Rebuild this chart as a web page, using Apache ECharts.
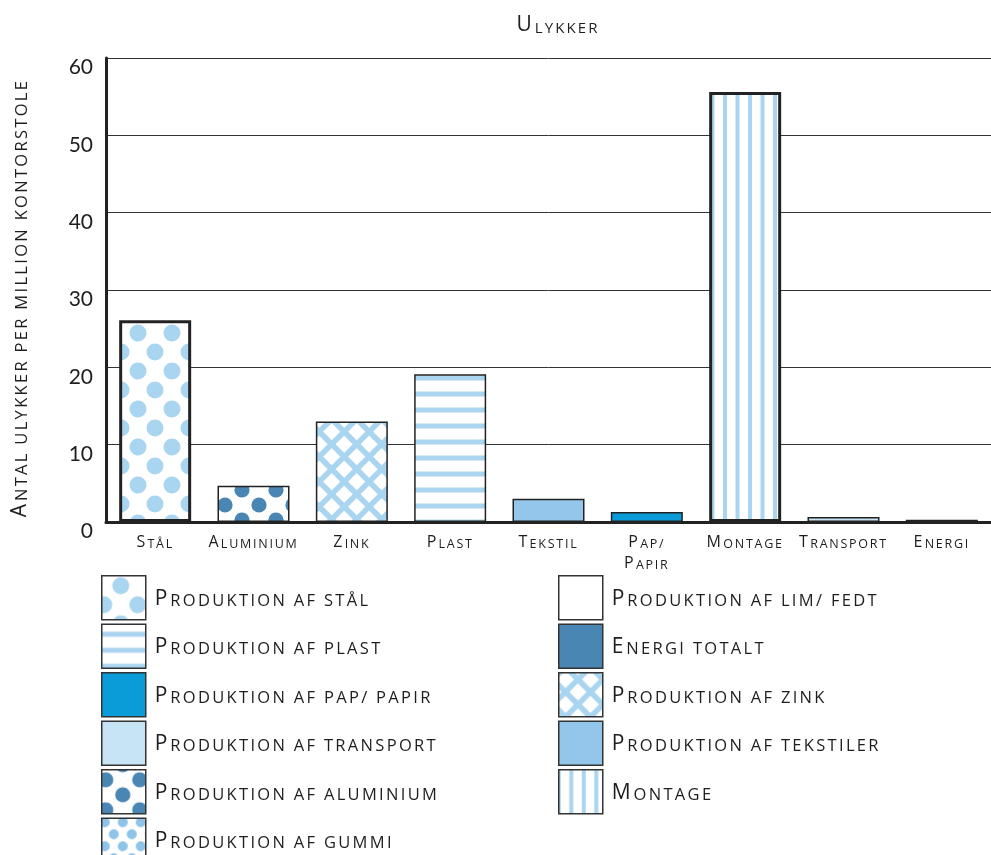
<!DOCTYPE html>
<html>
<head>
<meta charset="utf-8">
<script src="https://cdn.jsdelivr.net/npm/echarts@6/dist/echarts.min.js"></script>
<style>
  html, body { margin: 0; padding: 0; background: #fff; }
  #chart { width: 991px; height: 855px; }
</style>
</head>
<body>
<div id="chart"></div>
<script>
// ---- data -------------------------------------------------------------
const chartTitle = 'Ulykker';
const yAxisTitle = 'Antal ulykker per million kontorstole';
const categories = ['Stål', 'Aluminium', 'Zink', 'Plast', 'Tekstil', 'Pap/\nPapir', 'Montage', 'Transport', 'Energi'];
const accidents = [26.1, 4.7, 13.0, 19.1, 3.0, 1.3, 55.6, 0.65, 0.3];
// legend group each category belongs to
const categoryGroups = [
  'Produktion af stål', 'Produktion af aluminium', 'Produktion af zink', 'Produktion af plast',
  'Produktion af tekstiler', 'Produktion af pap/ papir', 'Montage', 'Produktion af transport', 'Energi totalt'
];
const legendLeft = [
  'Produktion af stål', 'Produktion af plast', 'Produktion af pap/ papir',
  'Produktion af transport', 'Produktion af aluminium', 'Produktion af gummi'
];
const legendRight = [
  'Produktion af lim/ fedt', 'Energi totalt', 'Produktion af zink',
  'Produktion af tekstiler', 'Montage'
];
const yMin = 0, yMax = 60, yStep = 10;

// ---- lettering ---------------------------------------------------------
const TEXT_FONT = '"Open Sans", sans-serif';
const NUM_FONT = 'Lato, sans-serif';
const INK = '#1e1e1e';

// Open tracking for the small-caps lettering (applied to drawing and measuring alike).
(function () {
  const proto = CanvasRenderingContext2D.prototype;
  const track = ctx => {
    const m = /(\d+(?:\.\d+)?)px[^,]*Open Sans/.exec(ctx.font);
    ctx.letterSpacing = m ? (parseFloat(m[1]) * 0.14).toFixed(2) + 'px' : '0px';
  };
  ['fillText', 'strokeText', 'measureText'].forEach(fn => {
    const orig = proto[fn];
    proto[fn] = function () { track(this); return orig.apply(this, arguments); };
  });
})();

// Capitals stay large, everything else becomes smaller capitals.
function smallCaps(text) {
  let out = '', buf = '', mode = null;
  const flush = () => { if (buf) out += '{' + mode + '|' + buf + '}'; buf = ''; };
  for (const ch of text) {
    if (ch === '\n') { flush(); out += '\n'; mode = null; continue; }
    const m = ch !== ch.toLowerCase() ? 'C' : 'L';
    if (m !== mode) { flush(); mode = m; }
    buf += ch.toUpperCase();
  }
  flush();
  return out;
}
function capsRich(big, small, lineHeight) {
  const base = { fontFamily: TEXT_FONT, fontWeight: 'normal', color: INK, lineHeight: lineHeight, verticalAlign: 'bottom' };
  return { C: Object.assign({ fontSize: big }, base), L: Object.assign({ fontSize: small }, base) };
}

// ---- fill patterns -----------------------------------------------------
const PALE = '#a9d5f0';
const DEEP = '#4a86b3';

function tile(w, h, paint) {
  const c = document.createElement('canvas');
  c.width = w; c.height = h;
  const g = c.getContext('2d');
  g.fillStyle = '#fff';
  g.fillRect(0, 0, w, h);
  paint(g, w, h);
  return { image: c, repeat: 'repeat' };
}
function dots(w, h, r, color, centers) {
  return tile(w, h, (g) => {
    g.fillStyle = color;
    centers.forEach(([cx, cy]) => {
      for (let i = -1; i <= 1; i++) for (let j = -1; j <= 1; j++) {
        g.beginPath();
        g.arc(cx + i * w, cy + j * h, r, 0, Math.PI * 2);
        g.fill();
      }
    });
  });
}
const fills = {
  'Produktion af stål': dots(34, 38, 8.5, PALE, [[2, 29], [19, 10]]),
  'Produktion af aluminium': dots(34, 30, 7.6, DEEP, [[4, 10], [21, 25]]),
  'Produktion af gummi': dots(18, 24, 5, '#8ec4e8', [[3, 4], [12, 16]]),
  'Produktion af plast': tile(16, 16, (g, w) => { g.fillStyle = PALE; g.fillRect(0, 7.5, w, 5); }),
  'Montage': tile(25, 16, (g, w, h) => {
    g.fillStyle = PALE;
    g.fillRect(-2, 0, 4, h); g.fillRect(23, 0, 4, h); g.fillRect(10.5, 0, 4, h);
  }),
  'Produktion af zink': tile(25, 25, (g) => {
    g.strokeStyle = PALE; g.lineWidth = 5.5;
    for (let k = -2; k <= 3; k++) {
      const a = 12.5 + 25 * k, b = 0.9 + 25 * k;
      g.beginPath(); g.moveTo(-10, -10 - a); g.lineTo(40, 40 - a); g.stroke();   // x - y = a
      g.beginPath(); g.moveTo(-10, b + 10); g.lineTo(40, b - 40); g.stroke();    // x + y = b
    }
  }),
  'Produktion af pap/ papir': '#0a9bd9',
  'Produktion af transport': '#c6e4f6',
  'Produktion af tekstiler': '#93c6ea',
  'Energi totalt': DEEP,
  'Produktion af lim/ fedt': '#ffffff'
};
const heavyOutline = ['Produktion af stål', 'Montage'];

// ---- series ------------------------------------------------------------
const groups = legendLeft.concat(legendRight);
const series = groups.map(name => ({
  name: name,
  type: 'bar',
  stack: 'all',
  barWidth: 72,
  itemStyle: {
    color: fills[name],
    borderColor: '#222',
    borderWidth: heavyOutline.includes(name) ? 3 : 1.5
  },
  data: accidents.map((v, i) => categoryGroups[i] === name ? v : '-')
}));

const legendBase = {
  orient: 'vertical',
  icon: 'rect',
  padding: 0,
  height: 320,
  itemWidth: 44,
  itemHeight: 44,
  itemGap: 3,
  selectedMode: false,
  itemStyle: { borderColor: '#333', borderWidth: 1.5 },
  formatter: name => smallCaps(name),
  textStyle: { padding: [0, 0, 0, 4], rich: capsRich(21, 16.5, 26) }
};

const chart = echarts.init(document.getElementById('chart'), null, { renderer: 'canvas' });
chart.setOption({
  animation: false,
  backgroundColor: '#fff',
  title: {
    text: smallCaps(chartTitle),
    left: 553,
    top: 4,
    textAlign: 'center',
    textStyle: { fontWeight: 'normal', rich: capsRich(21, 15, 28) }
  },
  grid: { left: 106, right: -10, top: 58, bottom: 333 },
  legend: [
    Object.assign({ left: 101, top: 575, data: legendLeft }, legendBase),
    Object.assign({ left: 558, top: 575, data: legendRight }, legendBase)
  ],
  xAxis: {
    type: 'category',
    data: categories,
    axisLine: { lineStyle: { color: '#222', width: 3 } },
    axisTick: { show: false },
    axisLabel: {
      margin: 9,
      interval: 0,
      formatter: v => smallCaps(v),
      rich: capsRich(16, 12.5, 21)
    }
  },
  yAxis: {
    type: 'value',
    min: yMin,
    max: yMax,
    interval: yStep,
    name: smallCaps(yAxisTitle),
    nameLocation: 'middle',
    nameRotate: 90,
    nameGap: 74,
    nameTextStyle: { padding: [0, 16, 0, 0], rich: capsRich(21, 16.5, 26) },
    axisLine: { show: true, lineStyle: { color: '#222', width: 3 } },
    axisTick: { show: false },
    splitLine: { lineStyle: { color: '#333', width: 1 } },
    axisLabel: {
      margin: 13,
      fontFamily: NUM_FONT,
      fontSize: 21,
      color: INK,
      verticalAlign: 'top',
      lineHeight: 19
    }
  },
  series: series
});
</script>
</body>
</html>
